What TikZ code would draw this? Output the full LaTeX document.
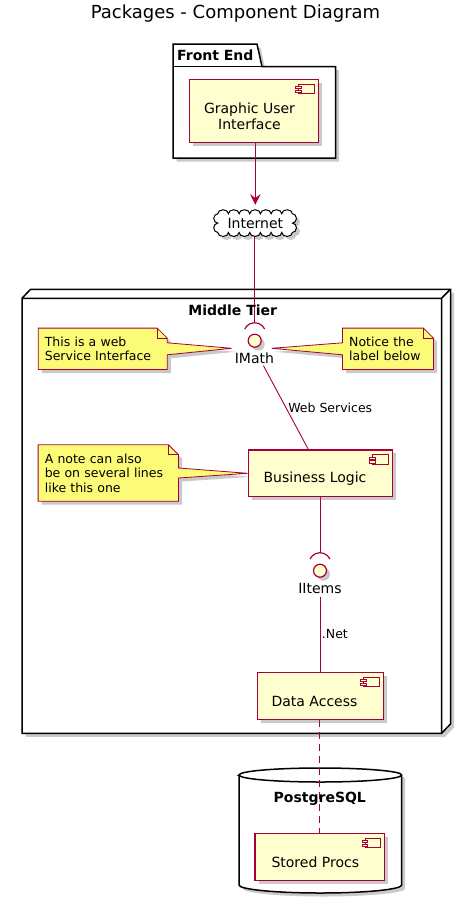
\documentclass[tikz,border=0pt]{standalone}
\usepackage{fontspec}
\setmainfont{DejaVu Sans}
\usetikzlibrary{shadows,calc,arrows.meta}
\definecolor{pred}{HTML}{A80036}
\definecolor{pfill}{HTML}{FEFECE}
\definecolor{nfill}{HTML}{FBFB77}
\pgfdeclarelayer{back}\pgfdeclarelayer{mid}\pgfdeclarelayer{conn}
\pgfsetlayers{back,mid,conn,main}
\tikzset{
 shad/.style={drop shadow={shadow xshift=3.5pt,shadow yshift=-3.5pt,opacity=0.35,fill=black!60}},
 cont/.style={draw=black,line width=1.5pt,fill=white,shad},
 comp/.style={draw=pred,fill=pfill,line width=1.2pt,shad,inner sep=0pt},
 ctext/.style={font=\fontsize{14}{16}\selectfont,align=center,text=black,inner sep=0pt},
 notebox/.style={draw=pred,fill=nfill,line width=0.8pt,shad},
 notetext/.style={font=\fontsize{12.5}{14.5}\selectfont,align=left,inner xsep=6.5pt,inner ysep=0pt},
 link/.style={draw=pred,line width=0.9pt},
 ltext/.style={font=\fontsize{12.5}{14.5}\selectfont,inner sep=0pt,text height=9.1pt,text depth=0pt},
 itext/.style={font=\fontsize{14}{16}\selectfont,inner sep=0pt,text height=10.2pt,text depth=0pt},
 btext/.style={font=\bfseries\fontsize{14}{16}\selectfont,inner sep=0pt,text height=10.2pt,text depth=0pt},
 iface/.style={circle,draw=pred,fill=pfill,line width=1.2pt,minimum size=13pt,inner sep=0pt,shad},
}
\newcommand{\compicon}[1]{%
  \draw[draw=pred,fill=pfill,line width=0.9pt] ($(#1.north east)+(-20,5.5)$) rectangle ++(15.5,9.5);
  \draw[draw=pred,fill=pfill,line width=0.9pt] ($(#1.north east)+(-23,7.8)$) rectangle ++(5.5,2.2);
  \draw[draw=pred,fill=pfill,line width=0.9pt] ($(#1.north east)+(-23,11.5)$) rectangle ++(5.5,2.2);}
\newcommand{\socket}[1]{%
  \draw[draw=pred,line width=1.2pt] (#1.center) ++(9.97,-11.65) arc[start angle=25,end angle=155,radius=11pt];}
\begin{document}
\begin{tikzpicture}[x=1pt,y=-1pt]
\useasboundingbox (0,0) rectangle (471,906);
\node[font=\fontsize{18}{20}\selectfont,inner sep=0pt,text height=13.1pt,text depth=0pt] (title) at (235.5,12) {Packages - Component Diagram};

% containers
\begin{pgfonlayer}{back}
\path[cont] (173,44) -- (257,44) -- (262,66.5) -- (335.5,66.5) -- (335.5,158) -- (173,158) -- cycle;
\draw[line width=1.5pt] (173,66.5) -- (262,66.5);
\path[cont] (22,298.3) -- (30.5,289.3) -- (450.5,289.3) -- (450.5,724) -- (441.5,733.3) -- (22,733.3) -- cycle;
\draw[line width=1.5pt] (22,298.3) -- (441.5,298.3) -- (450.5,289.3) (441.5,298.3) -- (441.5,733.3);
\path[cont] (239,775) -- (239,885) arc[start angle=180,end angle=360,x radius=81.35pt,y radius=8pt] -- (401.7,775) arc[start angle=0,end angle=180,x radius=81.35pt,y radius=7pt] -- cycle;
\draw[line width=1.5pt] (239,775) arc[start angle=180,end angle=360,x radius=81.35pt,y radius=7pt];
\end{pgfonlayer}

\node[btext,anchor=west] (felabel) at (177,55) {Front End};
\node[btext] (mtlabel) at (232.7,310) {Middle Tier};
\node[btext] (pglabel) at (319.8,797.7) {PostgreSQL};

% components
\node[comp,minimum width=129pt,minimum height=63.4pt,label={[ctext,xshift=-4.3pt,yshift=-5.3pt]center:Graphic User\\Interface}] (gui) at (253.8,111) {};
\compicon{gui}
\node[comp,minimum width=144pt,minimum height=46.7pt,label={[ctext,xshift=-5.3pt,yshift=-5pt]center:Business Logic}] (bl) at (320.3,473.3) {};
\compicon{bl}
\node[comp,minimum width=126pt,minimum height=47pt,label={[ctext,xshift=-5.8pt,yshift=-5.2pt]center:Data Access}] (da) at (320.3,695.8) {};
\compicon{da}
\node[comp,minimum width=129.3pt,minimum height=47.4pt,label={[ctext,xshift=-4.4pt,yshift=-5.3pt]center:Stored Procs}] (sp) at (319.7,857) {};
\compicon{sp}

% cloud
\node[itext,minimum width=82.7pt,minimum height=26.7pt] (inet) at (255.3,223.3) {Internet};
\begin{pgfonlayer}{mid}
\path[draw=black,line width=1pt,fill=white,shad] ($(inet.north west)+(4,4)$)
 \foreach \i in {1,...,7}{ arc[start angle=180,end angle=0,x radius=5.336pt,y radius=4pt] }
 \foreach \i in {1,2}{ arc[start angle=90,end angle=-90,x radius=4pt,y radius=4.675pt] }
 \foreach \i in {1,...,7}{ arc[start angle=0,end angle=-180,x radius=5.336pt,y radius=4pt] }
 \foreach \i in {1,2}{ arc[start angle=270,end angle=90,x radius=4pt,y radius=4.675pt] } -- cycle;
\end{pgfonlayer}

% interfaces
\node[iface] (imath) at (254.7,340.7) {};
\node[itext] (imlabel) at (254.4,358.3) {IMath};
\socket{imath}
\coordinate (imsock) at ($(imath.center)+(0,-18)$);
\node[iface] (iitems) at (320,570.7) {};
\node[itext] (iilabel) at (320,588.3) {IItems};
\socket{iitems}
\coordinate (iisock) at ($(iitems.center)+(0,-18)$);

% notes
\node[notetext,text width=115.7pt,minimum height=41pt] (n1) at (102.7,348.8) {This is a web\\Service Interface};
\node[notetext,text width=77.6pt,minimum height=41pt] (n2) at (388,348.8) {Notice the\\label below};
\node[notetext,text width=127pt,minimum height=56pt] (n3) at (108.3,473) {A note can also\\be on several lines\\like this one};
\coordinate (n1tip) at (231.7,348.3);
\coordinate (n2tip) at (271.7,348.3);
\begin{pgfonlayer}{mid}
\path[notebox] (n1.north west) -- ($(n1.north east)+(-10,0)$) -- ($(n1.north east)+(0,10)$) -- ($(n1.east)+(0,-6)$) -- (n1tip) -- ($(n1.east)+(0,6)$) -- (n1.south east) -- (n1.south west) -- cycle;
\draw[draw=pred,line width=0.8pt] ($(n1.north east)+(-10,0)$) -- ($(n1.north east)+(-10,10)$) -- ($(n1.north east)+(0,10)$);
\path[notebox] (n2.north west) -- ($(n2.north east)+(-10,0)$) -- ($(n2.north east)+(0,10)$) -- (n2.south east) -- (n2.south west) -- ($(n2.west)+(0,6)$) -- (n2tip) -- ($(n2.west)+(0,-6)$) -- cycle;
\draw[draw=pred,line width=0.8pt] ($(n2.north east)+(-10,0)$) -- ($(n2.north east)+(-10,10)$) -- ($(n2.north east)+(0,10)$);
\path[notebox] (n3.north west) -- ($(n3.north east)+(-10,0)$) -- ($(n3.north east)+(0,10)$) -- ($(n3.east)+(0,-5)$) -- (bl.west) -- ($(n3.east)+(0,5)$) -- (n3.south east) -- (n3.south west) -- cycle;
\draw[draw=pred,line width=0.8pt] ($(n3.north east)+(-10,0)$) -- ($(n3.north east)+(-10,10)$) -- ($(n3.north east)+(0,10)$);
\end{pgfonlayer}

% connectors
\begin{pgfonlayer}{conn}
\draw[link,-{Stealth[length=10.7pt,width=10.7pt,inset=4pt]},shorten >=5pt] (gui.south -| inet.north) -- (inet.north);
\draw[link] (inet.south -| imsock) -- (imsock);
\draw[link] ($(imlabel.south)+(9,2)$) -- ($(bl.north)+(-12,0)$) node[ltext,anchor=west,pos=0.5,xshift=2pt] (wslabel) {Web Services};
\draw[link] (bl.south -| iisock) -- (iisock);
\draw[link] ($(iilabel.south)+(0,3)$) -- (da.north -| iilabel.south) node[ltext,anchor=west,pos=0.5,xshift=1.5pt] (netlabel) {.Net};
\draw[link,dash pattern=on 7pt off 5pt] (da.south -| sp.north) -- (sp.north);
\end{pgfonlayer}
\end{tikzpicture}
\end{document}
